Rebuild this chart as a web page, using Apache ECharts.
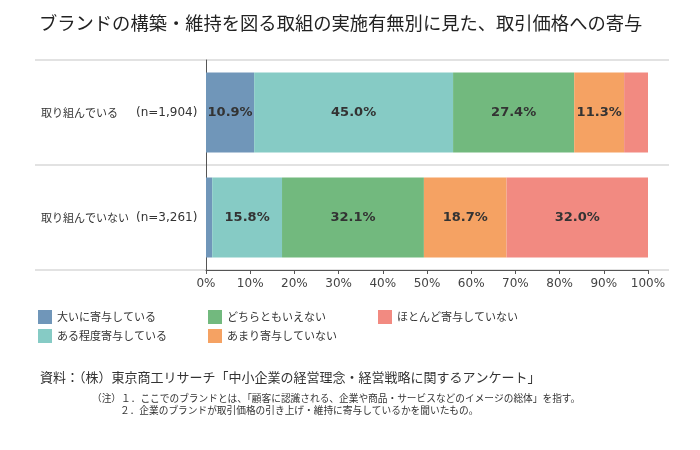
<!DOCTYPE html>
<html><head><meta charset="utf-8">
<script src="https://cdn.jsdelivr.net/npm/echarts@6/dist/echarts.min.js"></script>
<style>html,body{margin:0;padding:0;background:#fff}#c{width:700px;height:450px}</style>
</head><body><div id="c"></div>
<script>
var categories = ['取り組んでいる', '取り組んでいない'];
var counts = ['(n=1,904)', '(n=3,261)'];
var seriesNames = ['大いに寄与している', 'ある程度寄与している', 'どちらともいえない', 'あまり寄与していない', 'ほとんど寄与していない'];
var vStrong = [10.9, 1.4];
var vSome = [45.0, 15.8];
var vNeutral = [27.4, 32.1];
var vLittle = [11.3, 18.7];
var vNone = [5.4, 32.0];
var xTicks = [0, 10, 20, 30, 40, 50, 60, 70, 80, 90, 100];
var colors = ['#7096b9', '#86cbc5', '#72b97e', '#f5a263', '#f28a81'];

var allValues = [vStrong, vSome, vNeutral, vLittle, vNone];
var CJK = '"Noto Sans CJK JP", sans-serif';
var NUM = '"DejaVu Sans", "Noto Sans CJK JP", sans-serif';

var chart = echarts.init(document.getElementById('c'));
var series = allValues.map(function (vals, i) {
  return {
    name: seriesNames[i], type: 'bar', stack: 'total', barWidth: 80,
    xAxisIndex: 0, yAxisIndex: 0,
    itemStyle: { color: colors[i] },
    label: {
      show: true, position: 'inside', color: '#333', fontWeight: 'bold',
      fontSize: 13, fontFamily: NUM,
      formatter: function (p) { return p.value >= 8 ? p.value.toFixed(1) + '%' : ''; }
    },
    data: vals
  };
});
function leg(items, left) {
  return {
    data: items, orient: 'vertical', left: left, top: 310, padding: 0, itemWidth: 14, itemHeight: 14,
    itemGap: 5, icon: 'rect', textStyle: { fontSize: 11, color: '#333', fontFamily: CJK, padding: [0, 0, 0, 0] }
  };
}
chart.setOption({
  animation: false,
  title: [
    { text: 'ブランドの構築・維持を図る取組の実施有無別に見た、取引価格への寄与', left: 34, top: 9,
      textStyle: { fontSize: 18.3, fontWeight: 'normal', color: '#222', fontFamily: CJK } },
    { text: '資料：（株）東京商工リサーチ「中小企業の経営理念・経営戦略に関するアンケート」', left: 35, top: 366,
      textStyle: { fontSize: 13, fontWeight: 'normal', color: '#333', fontFamily: CJK } },
    { text: '（注）１．ここでのブランドとは、「顧客に認識される、企業や商品・サービスなどのイメージの総体」を指す。', left: 87, top: 388,
      textStyle: { fontSize: 9.7, fontWeight: 'normal', color: '#333', fontFamily: CJK } },
    { text: '２．企業のブランドが取引価格の引き上げ・維持に寄与しているかを聞いたもの。', left: 115, top: 400,
      textStyle: { fontSize: 9.7, fontWeight: 'normal', color: '#333', fontFamily: CJK } }
  ],
  legend: [
    leg([seriesNames[0], seriesNames[1]], 38),
    leg([seriesNames[2], seriesNames[3]], 208),
    leg([seriesNames[4]], 378)
  ],
  grid: [
    { left: 206, right: 52, top: 60, height: 210 },
    { left: 35, right: 31, top: 60, height: 210 }
  ],
  xAxis: [
    { type: 'value', gridIndex: 0, min: 0, max: 100, interval: 10,
      axisLine: { show: true, lineStyle: { color: '#555' } },
      axisTick: { show: true, length: 4, lineStyle: { color: '#555' } },
      splitLine: { show: false },
      axisLabel: { formatter: '{value}%', color: '#444', fontSize: 12, fontFamily: NUM, margin: 8 } },
    { type: 'value', gridIndex: 1, show: false, min: 0, max: 1 }
  ],
  yAxis: [
    { type: 'category', gridIndex: 0, inverse: true, data: categories,
      axisLine: { show: true, lineStyle: { color: '#555' } },
      axisTick: { show: false },
      splitLine: { show: false },
      axisLabel: {
        align: 'left', margin: 165, color: '#333', fontSize: 11, fontFamily: CJK,
        formatter: function (v, i) { return '{a|' + v + '}{b|' + counts[i] + '}'; },
        rich: { a: { width: 95, fontSize: 11, color: '#333', fontFamily: CJK },
                b: { fontSize: 12, color: '#333', fontFamily: NUM } }
      } },
    { type: 'category', gridIndex: 1, inverse: true, data: categories,
      axisLine: { show: false }, axisTick: { show: false }, axisLabel: { show: false },
      splitLine: { show: true, lineStyle: { color: '#d9d9d9', width: 1.5 } } }
  ],
  series: series
});
</script></body></html>
